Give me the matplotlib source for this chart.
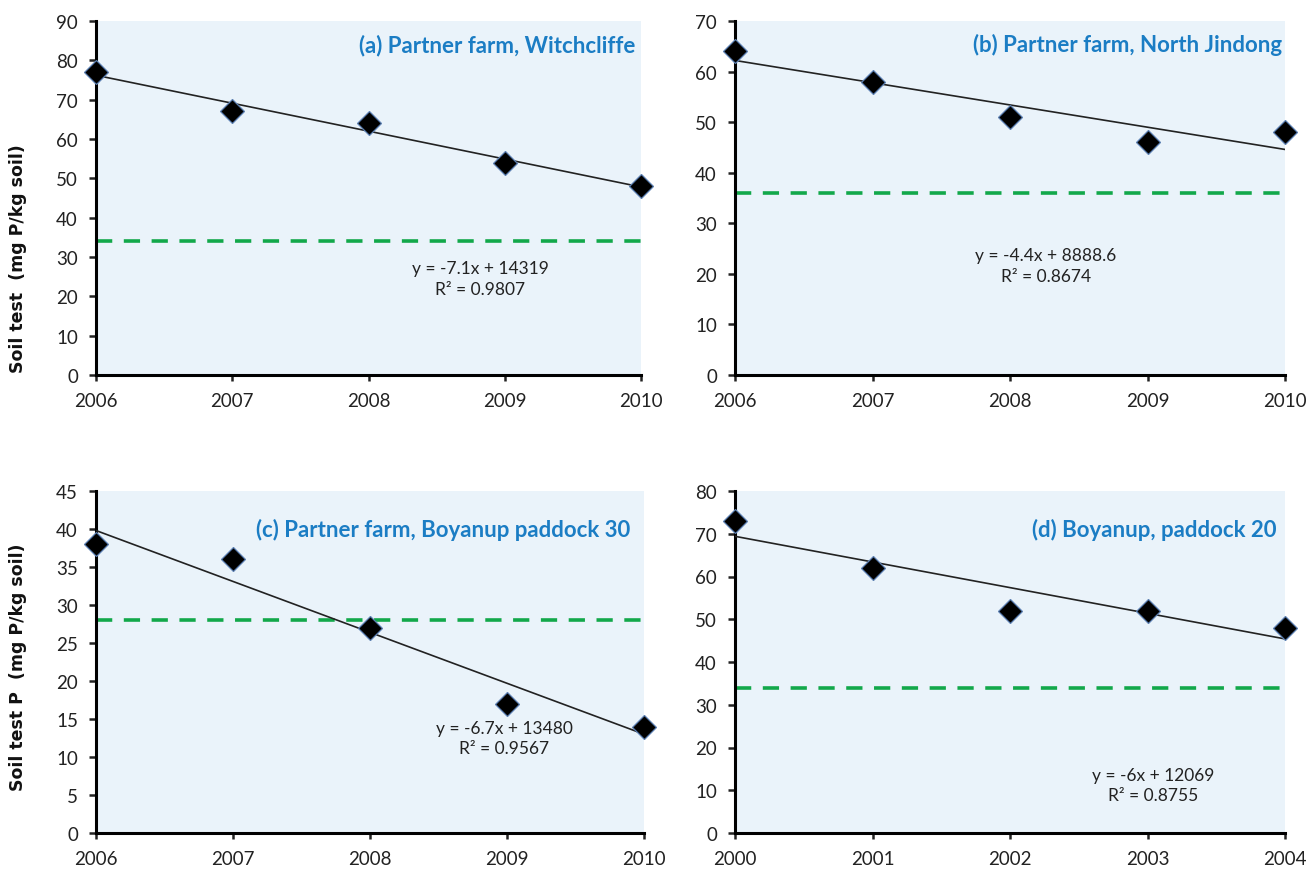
import numpy as np
import matplotlib
matplotlib.use("Agg")
import matplotlib.pyplot as plt

plt.rcParams['font.family'] = ['Lato', 'DejaVu Sans']

# data
years_a = [2006, 2007, 2008, 2009, 2010]
soil_a = [77, 67, 64, 54, 48]
crit_a = 34

years_b = [2006, 2007, 2008, 2009, 2010]
soil_b = [64, 58, 51, 46, 48]
crit_b = 36

years_c = [2006, 2007, 2008, 2009, 2010]
soil_c = [38, 36, 27, 17, 14]
crit_c = 28

years_d = [2000, 2001, 2002, 2003, 2004]
soil_d = [73, 62, 52, 52, 48]
crit_d = 34

titles = ["(a) Partner farm, Witchcliffe", "(b) Partner farm, North Jindong",
          "(c) Partner farm, Boyanup paddock 30", "(d) Boyanup, paddock 20"]
equations = ["y = -7.1x + 14319\nR² = 0.9807", "y = -4.4x + 8888.6\nR² = 0.8674",
             "y = -6.7x + 13480\nR² = 0.9567", "y = -6x + 12069\nR² = 0.8755"]
ylims = [(0, 90, 10), (0, 70, 10), (0, 45, 5), (0, 80, 10)]

W, H = 1309, 870
fig = plt.figure(figsize=(W / 100, H / 100), dpi=100)

# axes boxes in pixels: left, top, right, bottom
boxes = [(96, 22, 641, 376), (735, 22, 1285, 376),
         (96, 492, 644, 834), (735, 492, 1285, 834)]
title_pos = [(0.99, 0.935), (0.995, 0.935), (0.975, 0.89), (0.985, 0.89)]
eq_pos = [(0.705, 0.272), (0.565, 0.31), (0.745, 0.278), (0.76, 0.14)]

panels = [(years_a, soil_a, crit_a), (years_b, soil_b, crit_b),
          (years_c, soil_c, crit_c), (years_d, soil_d, crit_d)]

for i, (years, soil, crit) in enumerate(panels):
    l, t, r, b = boxes[i]
    ax = fig.add_axes([l / W, 1 - b / H, (r - l) / W, (b - t) / H])
    ax.set_facecolor('#EAF3FA')

    x = np.array(years)
    y = np.array(soil)
    k, c0 = np.polyfit(x, y, 1)
    ax.plot(x, k * x + c0, color='#222222', lw=1.2, zorder=3)
    ax.axhline(crit, color='#12A84A', lw=2.6, ls=(0, (4.5, 3.2)), zorder=2)
    ax.plot(x, y, ls='none', marker='D', ms=12.5, mfc='black', mec='#5B7FB2',
            mew=0.9, zorder=4, clip_on=False)

    ymin, ymax, step = ylims[i]
    ax.set_ylim(ymin, ymax)
    ax.set_yticks(np.arange(ymin, ymax + 0.1, step))
    ax.set_xlim(years[0], years[-1])
    ax.set_xticks(years)
    ax.set_xticklabels([str(v) for v in years])

    for s in ['top', 'right']:
        ax.spines[s].set_visible(False)
    for s in ['left', 'bottom']:
        ax.spines[s].set_linewidth(2.2)
        ax.spines[s].set_color('black')
    ax.tick_params(axis='y', direction='out', length=5, width=1.8,
                   labelsize=13.5, colors='#222222', pad=8)
    ax.tick_params(axis='x', direction='out', length=4, width=1.8,
                   labelsize=13.5, colors='#222222', pad=8)

    ax.text(title_pos[i][0], title_pos[i][1], titles[i], transform=ax.transAxes,
            ha='right', va='center', fontsize=16, fontweight='bold', color='#1B7DC4')
    ax.text(eq_pos[i][0], eq_pos[i][1], equations[i], transform=ax.transAxes,
            ha='center', va='center', fontsize=12.5, color='#222222', linespacing=1.35)

fig.text(18 / W, 1 - 259 / H, "Soil test  (mg P/kg soil)", rotation=90,
         ha='center', va='center', fontsize=12.5, fontweight='bold',
         family='DejaVu Sans', color='#111111')
fig.text(18 / W, 1 - 667 / H, "Soil test P  (mg P/kg soil)", rotation=90,
         ha='center', va='center', fontsize=12.5, fontweight='bold',
         family='DejaVu Sans', color='#111111')

fig.savefig('out.png', dpi=100)
